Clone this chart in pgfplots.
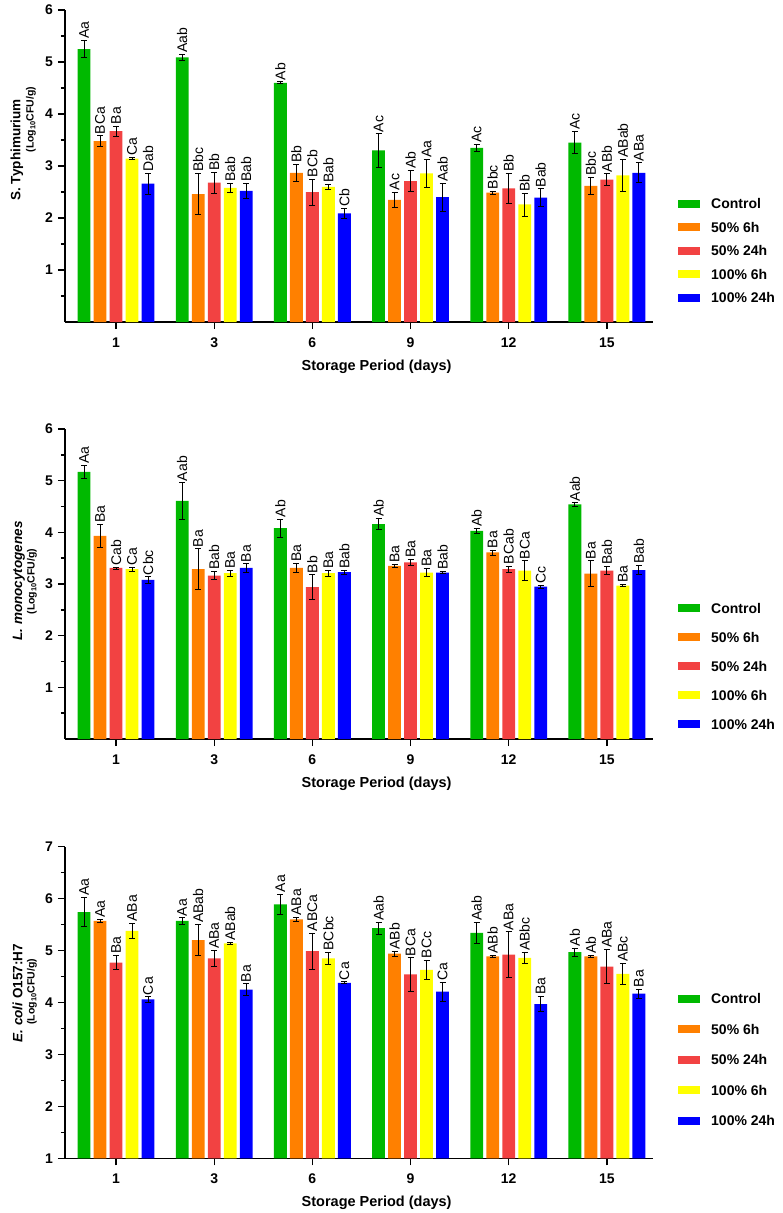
\documentclass[border=0pt]{standalone}
\usepackage{fontspec}
\setmainfont{Liberation Sans}
\usepackage{pgfplots}
\usepackage{pgfplotstable}
\pgfplotsset{compat=1.18}
\definecolor{cg}{RGB}{0,185,0}
\definecolor{co}{RGB}{255,128,0}
\definecolor{cr}{RGB}{242,66,66}
\definecolor{cy}{RGB}{255,255,0}
\definecolor{cb}{RGB}{0,0,255}
\newcommand\bx{\bfseries\fontsize{14}{16}\selectfont}

\pgfplotstableread{
day c ce cl o oe ol r re rl y ye yl b be bl
0 5.25 0.17 Aa  3.48 0.10 BCa 3.67 0.10 Ba  3.14 0.02 Ca   2.66 0.20 Dab
1 5.09 0.06 Aab 2.46 0.40 Bbc 2.68 0.20 Bb  2.58 0.08 Bab  2.52 0.15 Bab
2 4.60 0.02 Ab  2.87 0.16 Bb  2.50 0.25 BCb 2.60 0.05 Bab  2.09 0.10 Cb
3 3.30 0.32 Ac  2.35 0.15 Ac  2.71 0.20 Ab  2.86 0.27 Aa   2.40 0.27 Aab
4 3.35 0.06 Ac  2.49 0.03 Bbc 2.57 0.29 Bb  2.26 0.22 Bb   2.39 0.17 Bab
5 3.45 0.21 Ac  2.62 0.16 Bbc 2.74 0.11 ABb 2.82 0.31 ABab 2.87 0.19 ABa
}\tabS
\pgfplotstableread{
day c ce cl o oe ol r re rl y ye yl b be bl
0 5.17 0.13 Aa  3.93 0.23 Ba 3.31 0.02 Cab  3.29 0.04 Ca  3.08 0.06 Cbc
1 4.61 0.35 Aab 3.29 0.39 Ba 3.16 0.08 Bab  3.21 0.06 Ba  3.31 0.08 Ba
2 4.08 0.18 Ab  3.31 0.09 Ba 2.94 0.24 Bb   3.21 0.06 Ba  3.23 0.04 Bab
3 4.16 0.11 Ab  3.35 0.03 Ba 3.42 0.06 Ba   3.22 0.08 Ba  3.22 0.02 Bab
4 4.03 0.05 Ab  3.61 0.05 Ba 3.29 0.06 BCab 3.26 0.19 BCa 2.95 0.03 Cc
5 4.54 0.03 Aab 3.20 0.25 Ba 3.26 0.08 Bab  2.97 0.02 Ba  3.27 0.09 Bab
}\tabL
\pgfplotstableread{
day c ce cl o oe ol r re rl y ye yl b be bl
0 5.74 0.28 Aa  5.57 0.03 Aa   4.77 0.14 Ba   5.38 0.15 ABa  4.06 0.05 Ca
1 5.57 0.06 Aa  5.20 0.30 ABab 4.85 0.15 ABa  5.14 0.02 ABab 4.25 0.11 Ba
2 5.89 0.20 Aa  5.60 0.04 ABa  4.99 0.35 ABCa 4.85 0.12 BCbc 4.38 0.02 Ca
3 5.43 0.11 Aab 4.94 0.05 ABb  4.54 0.32 BCa  4.63 0.19 BCc  4.21 0.18 Ca
4 5.34 0.20 Aab 4.89 0.02 ABb  4.92 0.44 ABa  4.86 0.10 ABbc 3.97 0.15 Ba
5 4.97 0.08 Ab  4.89 0.02 Ab   4.69 0.33 ABa  4.55 0.20 ABc  4.17 0.09 Ba
}\tabE

\pgfplotsset{
  panel/.style={
    scale only axis, width=588pt,
    xmin=-0.52, xmax=5.47,
    axis x line*=bottom, axis y line*=left,
    axis line style={line width=1.6pt, black},
    ybar=3.2pt, bar width=12.8pt,
    xtick={0,...,5}, xticklabels={1,3,6,9,12,15},
    major tick length=7pt, minor tick length=4pt,
    tick align=outside,
    every tick/.style={line width=1.4pt, black},
    /pgf/number format/assume math mode=true,
    xticklabel style={font=\bx, anchor=base, yshift=-18pt},
    yticklabel style={font=\bx, anchor=east, inner sep=0pt, xshift=-5pt},
    xlabel={Storage Period (days)},
    xlabel style={at={(axis description cs:0.53,0)}, anchor=base, yshift=-48pt, font=\bfseries\fontsize{14.5}{16}\selectfont},
    nodes near coords, point meta=explicit symbolic,
    every node near coord/.append style={shift={(axis direction cs:0,\myerr)}, rotate=90, anchor=west, font=\fontsize{14}{15}\selectfont, inner sep=1.5pt, black},
    legend image code/.code={\fill[##1] (0pt,-4pt) rectangle (22pt,4pt);},
    legend cell align=left,
    legend style={draw=none, fill=none, inner sep=0pt, font=\bx, anchor=west, xshift=25pt,
      nodes={inner sep=0pt, text height=10pt, text depth=0pt},
      /tikz/every odd column/.style={column sep=11pt}},
    error bars/error bar style={line width=0.8pt, black},
    error bars/error mark options={rotate=90, mark size=3pt, line width=0.8pt, black},
  },
}
\newcommand\series[4]{%
  \addplot[fill=#1, draw=none, visualization depends on={\thisrow{#3e}\as\myerr},
    error bars/.cd, y dir=both, y explicit]
    table[x=day, y=#3, y error=#3e, meta=#3l]{#2};
  \addlegendentry{#4}}
\newcommand\allseries[1]{%
  \series{cg}{#1}{c}{Control}
  \series{co}{#1}{o}{50\% 6h}
  \series{cr}{#1}{r}{50\% 24h}
  \series{cy}{#1}{y}{100\% 6h}
  \series{cb}{#1}{b}{100\% 24h}}

\begin{document}
\begin{tikzpicture}
\path[use as bounding box] (0pt,0pt) rectangle (783pt,-1213pt);

\begin{axis}[panel, at={(65pt,-10pt)}, anchor=north west, height=312pt,
  ymin=0, ymax=6, ytick={1,...,6}, minor ytick={0.5,1.5,...,5.5},
  legend style={at={(1,0.228)}, /tikz/row sep=13.5pt}]
\allseries{\tabS}
\end{axis}

\begin{axis}[panel, at={(65pt,-429pt)}, anchor=north west, height=310pt,
  ymin=0, ymax=6, ytick={1,...,6}, minor ytick={0.5,1.5,...,5.5},
  legend style={at={(1,0.2345)}, /tikz/row sep=19pt}]
\allseries{\tabL}
\end{axis}

\begin{axis}[panel, at={(65pt,-846.7pt)}, anchor=north west, height=311.6pt,
  ymin=1, ymax=7, ytick={1,...,7}, minor ytick={1.5,2.5,...,6.5},
  legend style={at={(1,0.3165)}, /tikz/row sep=20.5pt}]
\allseries{\tabE}
\end{axis}

% y-axis titles
\node[rotate=90, font=\bfseries\fontsize{13.5}{15}\selectfont] at (17pt,-150pt) {S. Typhimurium};
\node[rotate=90, font=\bfseries\fontsize{10.5}{12}\selectfont] at (31pt,-119.5pt) {(Log\textsubscript{10}CFU/g)};
\node[rotate=90, font=\bfseries\fontsize{13.5}{15}\selectfont] at (19pt,-581pt) {\itshape L. monocytogenes};
\node[rotate=90, font=\bfseries\fontsize{10.5}{12}\selectfont] at (32pt,-581.5pt) {(Log\textsubscript{10}CFU/g)};
\node[rotate=90, font=\bfseries\fontsize{13.5}{15}\selectfont] at (17.5pt,-993pt) {\textit{E. coli} O157:H7};
\node[rotate=90, font=\bfseries\fontsize{10.5}{12}\selectfont] at (32pt,-991.7pt) {(Log\textsubscript{10}CFU/g)};
\end{tikzpicture}
\end{document}
